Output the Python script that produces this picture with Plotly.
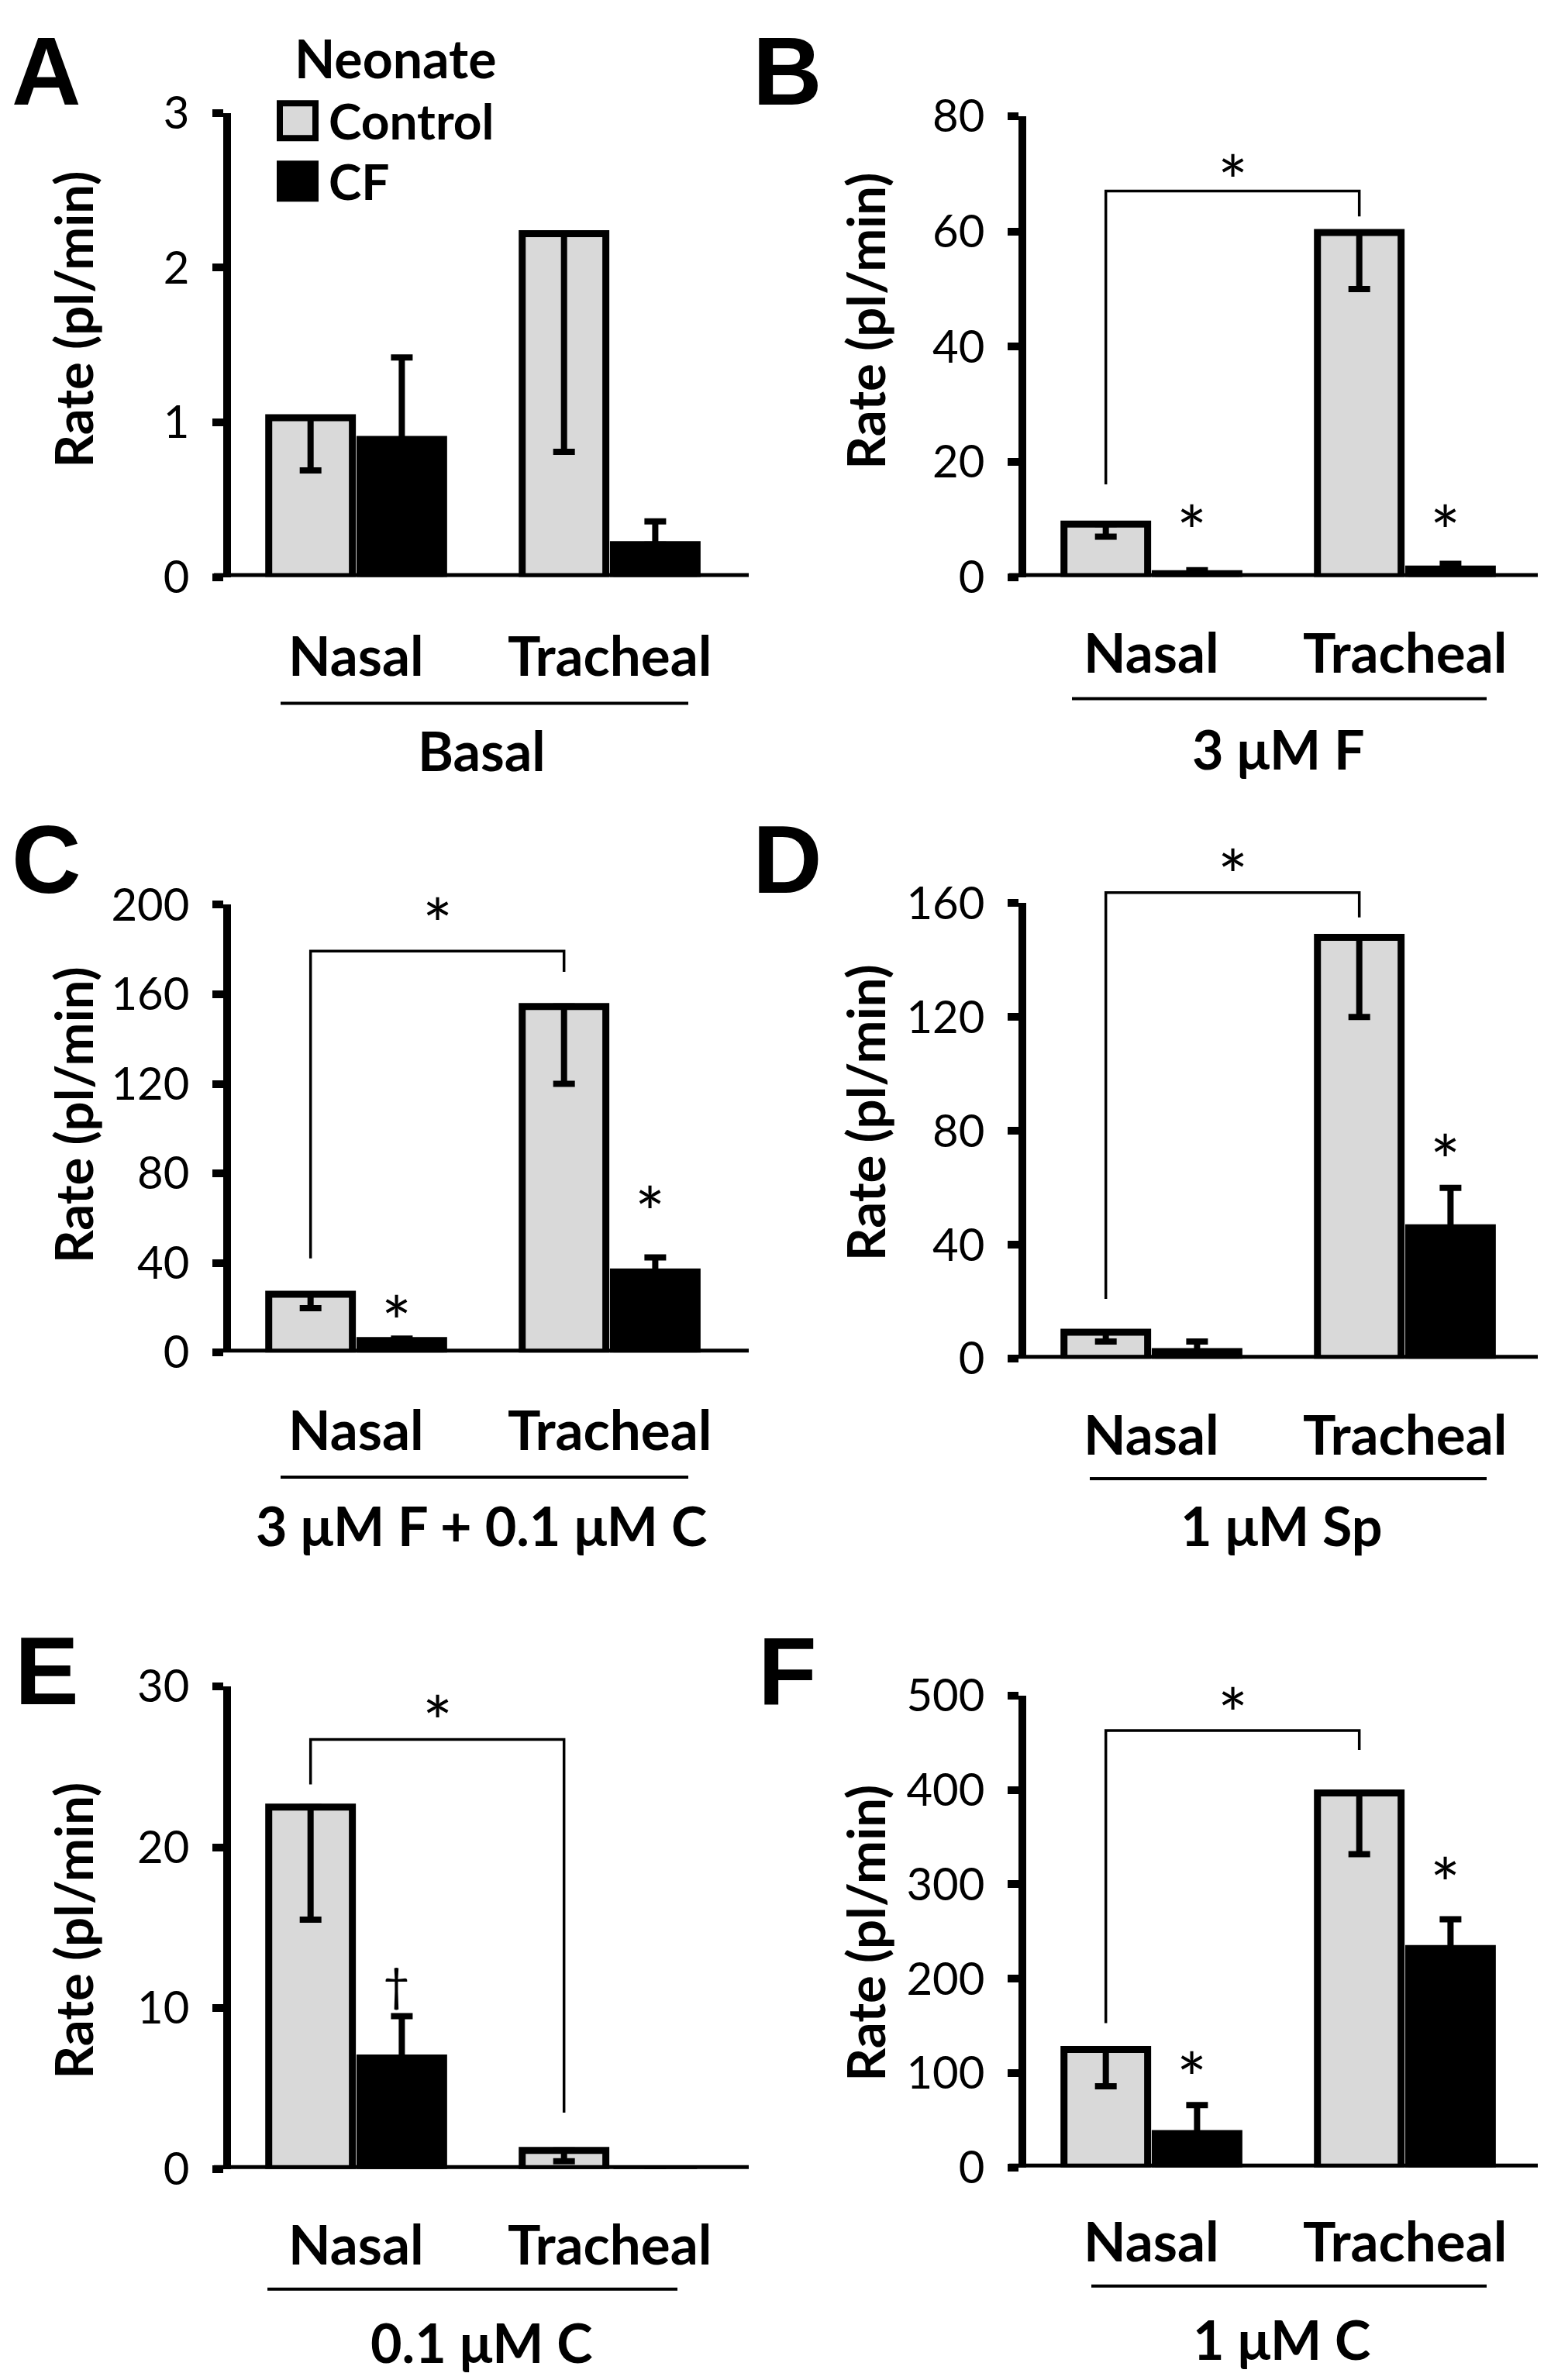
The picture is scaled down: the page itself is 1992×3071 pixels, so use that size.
import plotly.graph_objects as go

W, H = 1992, 3071

# ---------------- data ----------------
categories = ["Nasal", "Tracheal"]
series_names = ["Control", "CF"]
panel_letters = ["A", "B", "C", "D", "E", "F"]
conditions = ["Basal", "3 μM F", "3 μM F + 0.1 μM C", "1 μM Sp", "0.1 μM C", "1 μM C"]

# Control means and lower end of error bar; CF means and upper end of error bar
ctrl_A = [1.03, 2.22]; ctrl_lo_A = [0.69, 0.81]; cf_A = [0.89, 0.21]; cf_hi_A = [1.42, 0.36]
ctrl_B = [9.2, 59.8]; ctrl_lo_B = [7.0, 50.0]; cf_B = [0.6, 1.4]; cf_hi_B = [1.2, 2.3]
ctrl_C = [26.0, 154.5]; ctrl_lo_C = [19.8, 120.0]; cf_C = [5.3, 36.0]; cf_hi_C = [6.2, 42.5]
ctrl_D = [9.3, 148.0]; ctrl_lo_D = [6.0, 120.0]; cf_D = [2.5, 46.0]; cf_hi_D = [6.0, 60.0]
ctrl_E = [22.5, 1.16]; ctrl_lo_E = [15.5, 0.48]; cf_E = [6.9, 0.0]; cf_hi_E = [9.5, 0.0]
ctrl_F = [125.0, 397.0]; ctrl_lo_F = [86.0, 332.0]; cf_F = [36.0, 232.0]; cf_hi_F = [66.0, 263.0]

yticks_A = [0, 1, 2, 3]
yticks_B = [0, 20, 40, 60, 80]
yticks_C = [0, 40, 80, 120, 160, 200]
yticks_D = [0, 40, 80, 120, 160]
yticks_E = [0, 10, 20, 30]
yticks_F = [0, 100, 200, 300, 400, 500]

# significance bracket: [left foot, top, right foot], star height
bracket_B = [16.1, 67.0, 62.6]; bracket_star_B = 70.9
bracket_C = [42.0, 179.3, 170.0]; bracket_star_C = 197.0
bracket_D = [21.0, 163.7, 155.0]; bracket_star_D = 174.0
bracket_E = [23.9, 26.7, 3.5]; bracket_star_E = 28.6
bracket_F = [153.0, 463.0, 442.5]; bracket_star_F = 494.0

# marks above CF bars: (category index, symbol, height)
marks_B = [(0, "*", 10.1), (1, "*", 10.1)]
marks_C = [(0, "*", 19.3), (1, "*", 68.0)]
marks_D = [(1, "*", 74.0)]
marks_E = [(0, "†", 11.5)]
marks_F = [(0, "*", 108.0), (1, "*", 314.0)]

panels = [
    dict(ctrl=ctrl_A, lo=ctrl_lo_A, cf=cf_A, hi=cf_hi_A, ticks=yticks_A, br=None, bs=None, marks=[]),
    dict(ctrl=ctrl_B, lo=ctrl_lo_B, cf=cf_B, hi=cf_hi_B, ticks=yticks_B, br=bracket_B, bs=bracket_star_B, marks=marks_B),
    dict(ctrl=ctrl_C, lo=ctrl_lo_C, cf=cf_C, hi=cf_hi_C, ticks=yticks_C, br=bracket_C, bs=bracket_star_C, marks=marks_C),
    dict(ctrl=ctrl_D, lo=ctrl_lo_D, cf=cf_D, hi=cf_hi_D, ticks=yticks_D, br=bracket_D, bs=bracket_star_D, marks=marks_D),
    dict(ctrl=ctrl_E, lo=ctrl_lo_E, cf=cf_E, hi=cf_hi_E, ticks=yticks_E, br=bracket_E, bs=bracket_star_E, marks=marks_E),
    dict(ctrl=ctrl_F, lo=ctrl_lo_F, cf=cf_F, hi=cf_hi_F, ticks=yticks_F, br=bracket_F, bs=bracket_star_F, marks=marks_F),
]

# ---------------- layout geometry (pixels) ----------------
geo = [
    dict(xl=290, xr=958, yt=143, yb=742, letter=(52, 63), ytitle=(86, 410), cat_y=842, ul=(354, 880, 905), cond=(613, 966)),
    dict(xl=1316, xr=1984, yt=147, yb=742, letter=(1008, 63), ytitle=(1108, 412), cat_y=838, ul=(1375, 1910, 899), cond=(1641, 964)),
    dict(xl=290, xr=958, yt=1165, yb=1743, letter=(52, 1116), ytitle=(86, 1437), cat_y=1841, ul=(354, 880, 1904), cond=(613, 1966)),
    dict(xl=1316, xr=1984, yt=1163, yb=1751, letter=(1008, 1116), ytitle=(1108, 1434), cat_y=1847, ul=(1398, 1910, 1906), cond=(1645, 1966)),
    dict(xl=290, xr=958, yt=2174, yb=2797, letter=(52, 2164), ytitle=(86, 2490), cat_y=2893, ul=(337, 866, 2952), cond=(613, 3020)),
    dict(xl=1316, xr=1984, yt=2186, yb=2795, letter=(1008, 2164), ytitle=(1108, 2493), cat_y=2889, ul=(1400, 1910, 2948), cond=(1645, 3016)),
]

OFF = 0.18
BW = 0.33
UNIT_PX = 327.0
XR0 = -0.494
GRAY = "#d9d9d9"
FONT = "Lato"


def Y(y):
    # vertical placement correction
    return y * 1.02255 - 43.06


def px(x):
    return x / W


def py(y):
    return 1 - y / H


fig = go.Figure()
annotations = []
shapes = []

for i, (p, g) in enumerate(zip(panels, geo)):
    n = "" if i == 0 else str(i + 1)
    xa, ya = "x" + n, "y" + n
    ymax = p["ticks"][-1]
    XR = [XR0, XR0 + (g["xr"] - g["xl"]) / UNIT_PX]

    def xdom(v, XR=XR):
        return (v - XR[0]) / (XR[1] - XR[0])

    xpos = list(range(len(categories)))
    ctrl_minus = [v - lo for v, lo in zip(p["ctrl"], p["lo"])]
    cf_plus = [hi - v for v, hi in zip(p["cf"], p["hi"])]
    fig.add_trace(go.Bar(
        x=[c - OFF for c in xpos], y=p["ctrl"], width=BW, name=series_names[0],
        marker=dict(color=GRAY, line=dict(color="black", width=9)),
        error_y=dict(type="data", symmetric=False, array=[0] * len(xpos), arrayminus=ctrl_minus,
                     color="black", thickness=8, width=14),
        xaxis=xa, yaxis=ya, showlegend=False))
    fig.add_trace(go.Bar(
        x=[c + OFF for c in xpos], y=p["cf"], width=BW, name=series_names[1],
        marker=dict(color="black", line=dict(color="black", width=9)),
        error_y=dict(type="data", symmetric=False, array=cf_plus, arrayminus=[0] * len(xpos),
                     color="black", thickness=8, width=14),
        xaxis=xa, yaxis=ya, showlegend=False))

    fig.update_layout(**{
        ("xaxis" + n): dict(domain=[px(g["xl"]), px(g["xr"])], range=XR, anchor=ya,
                            showline=False, showticklabels=False, ticks="", showgrid=False,
                            zeroline=False, fixedrange=True),
        ("yaxis" + n): dict(domain=[py(Y(g["yb"])), py(Y(g["yt"]))], range=[0, ymax], anchor=xa,
                            showline=True, linewidth=10, linecolor="black",
                            ticks="outside", ticklen=14, tickwidth=10, tickcolor="black",
                            tickvals=p["ticks"], ticktext=[str(t) for t in p["ticks"]],
                            tickfont=dict(family=FONT, size=58, color="black"),
                            ticklabelstandoff=18,
                            showgrid=False, zeroline=False, fixedrange=True),
    })

    xd, yd = xa + " domain", ya + " domain"

    # x axis line
    shapes.append(dict(type="line", xref="paper", yref=ya, x0=px(g["xl"] - 22), x1=px(g["xr"]),
                       y0=0, y1=0, line=dict(color="black", width=10), layer="above"))

    # significance bracket
    if p["br"] is not None:
        lf, top, rf = p["br"]
        xL, xRt = xdom(-OFF), xdom(1 - OFF)
        shapes.append(dict(type="path", xref=xd, yref=yd,
                           path=f"M {xL},{lf / ymax} L {xL},{top / ymax} L {xRt},{top / ymax} L {xRt},{rf / ymax}",
                           line=dict(color="black", width=3.5), layer="above"))
        annotations.append(dict(x=xdom(0.5 - OFF), y=p["bs"] / ymax, xref=xd, yref=yd, text="*",
                                showarrow=False, font=dict(family=FONT, size=92, color="black"),
                                xanchor="center", yanchor="middle", yshift=-14))
    for ci, sym, h in p["marks"]:
        star = sym == "*"
        annotations.append(dict(x=xdom(ci + OFF - 0.02), y=h / ymax, xref=xd, yref=yd, text=sym,
                                showarrow=False, font=dict(family=FONT, size=92 if star else 60, color="black"),
                                xanchor="center", yanchor="middle", yshift=-14 if star else 0))

    # category labels
    for ci, cat in enumerate(categories):
        annotations.append(dict(x=xdom(ci), y=py(Y(g["cat_y"])), xref=xd, yref="paper", text="<b>" + cat + "</b>",
                                showarrow=False, font=dict(family=FONT, size=71, color="black"),
                                xanchor="center", yanchor="middle"))
    # underline
    x0, x1, yu = g["ul"]
    shapes.append(dict(type="line", xref="paper", yref="paper", x0=px(x0), x1=px(x1),
                       y0=py(Y(yu)), y1=py(Y(yu)), line=dict(color="black", width=4)))
    # condition label
    cx, cy = g["cond"]
    annotations.append(dict(x=px(cx), y=py(Y(cy)), xref="paper", yref="paper", text="<b>" + conditions[i] + "</b>",
                            showarrow=False, font=dict(family=FONT, size=70, color="black"),
                            xanchor="center", yanchor="middle"))
    # y title
    tx, ty = g["ytitle"]
    annotations.append(dict(x=px(tx), y=py(Y(ty)), xref="paper", yref="paper", text="<b>Rate (pl/min)</b>",
                            showarrow=False, textangle=-90, font=dict(family=FONT, size=67, color="black"),
                            xanchor="center", yanchor="middle"))
    # panel letter
    lx, ly = g["letter"]
    annotations.append(dict(x=px(lx), y=py(max(Y(ly) - 10, 48)), xref="paper", yref="paper",
                            text="<b>" + panel_letters[i] + "</b>",
                            showarrow=False, font=dict(family="Liberation Sans", size=124, color="black"),
                            xanchor="center", yanchor="middle"))

# legend (panel A)
annotations.append(dict(x=px(370), y=py(Y(72)), xref="paper", yref="paper", text="<b>Neonate</b>",
                        showarrow=False, font=dict(family=FONT, size=68, color="black"),
                        xanchor="left", yanchor="middle"))
legend_rows = [(153, GRAY), (231, "black")]
for (ly, col), name in zip(legend_rows, series_names):
    yc = Y(ly)
    shapes.append(dict(type="rect", xref="paper", yref="paper",
                       x0=px(353), x1=px(399), y0=py(yc - 23), y1=py(yc + 23),
                       fillcolor=col, line=dict(color="black", width=8)))
    annotations.append(dict(x=px(414), y=py(yc), xref="paper", yref="paper", text="<b>" + name + "</b>",
                            showarrow=False, font=dict(family=FONT, size=64, color="black"),
                            xanchor="left", yanchor="middle"))

fig.update_layout(
    width=W, height=H, margin=dict(l=0, r=0, t=0, b=0),
    paper_bgcolor="white", plot_bgcolor="white",
    barmode="overlay", showlegend=False,
    annotations=annotations, shapes=shapes,
    font=dict(family=FONT, color="black"),
)

fig.write_html("out.html")
